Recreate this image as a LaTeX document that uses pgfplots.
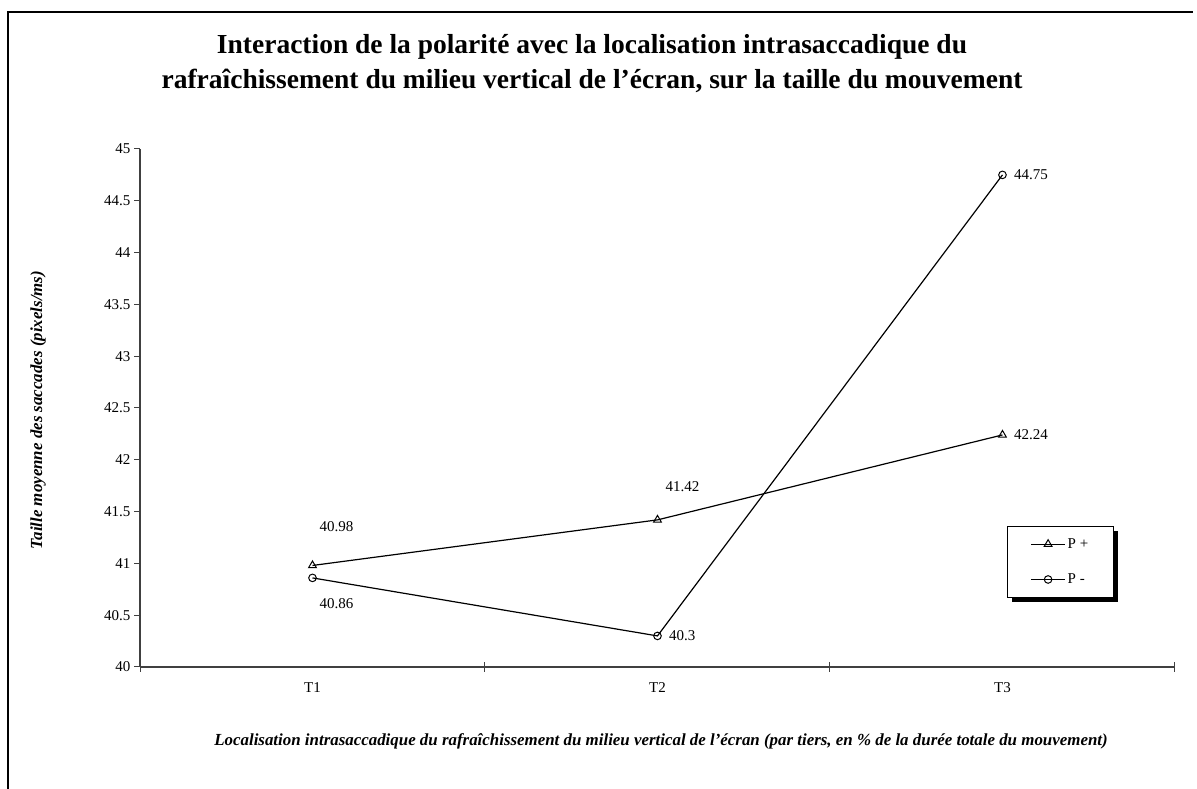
\documentclass[border=0pt]{standalone}
\usepackage{pgfplots}
\pgfplotsset{compat=1.18}
\usepackage{fontspec}
\setmainfont{Liberation Serif}
\begin{document}
\begin{tikzpicture}[x=1pt,y=1pt]
\useasboundingbox (0,0) rectangle (1197,789);
\draw[line width=1.6pt] (8,-2) -- (8,777) -- (1193,777);
\node[font=\fontsize{27.5}{35}\selectfont\bfseries, align=center] at (592,789-64) {Interaction de la polarité avec la localisation intrasaccadique du\\rafraîchissement du milieu vertical de l'écran, sur la taille du mouvement};
\node[font=\fontsize{16.9}{18}\selectfont\bfseries\itshape, rotate=90] at (38,789-410) {Taille moyenne des saccades (pixels/ms)};
\node[font=\fontsize{16.9}{18}\selectfont\bfseries\itshape] at (661,789-741) {Localisation intrasaccadique du rafraîchissement du milieu vertical de l'écran (par tiers, en \% de la durée totale du mouvement)};
\begin{axis}[
  at={(140pt,122pt)}, anchor=south west,
  width=1035pt, height=518pt, scale only axis,
  xmin=-0.5, xmax=2.5, ymin=40, ymax=45,
  axis lines=left, axis line style={-, line width=1.2pt, black!75},
  tick align=outside,
  xtick={0,1,2}, xticklabels={T1,T2,T3},
  major x tick style={draw=none},
  minor xtick={-0.5,0.5,1.5,2.5},
  minor tick length=10pt,
  minor x tick style={yshift=5pt, line width=1pt, black!75},
  ytick={40,40.5,...,45},
  major tick length=6pt,
  y tick style={line width=1pt, black!75},
  yticklabel style={/pgf/number format/fixed, /pgf/number format/precision=1},
  /pgf/number format/assume math mode=true,
  tick label style={font=\fontsize{15}{17}\selectfont},
  xticklabel style={yshift=-6pt},
  clip=false,
  legend style={at={(0.8377,0.2722)}, anchor=north west, draw=black, line width=1pt,
    fill=white,
    font=\fontsize{15}{17}\selectfont, inner xsep=23pt, inner ysep=10pt, row sep=20pt},
  legend cell align=left,
  legend image code/.code={\draw[mark repeat=2,mark phase=2,#1] plot coordinates {(0pt,0pt) (17pt,0pt) (34pt,0pt)};},
]
\fill[black] (rel axis cs:0.8425,0.2625) rectangle (rel axis cs:0.9449,0.1255);
\addplot[black, line width=1.2pt, mark=triangle, mark size=4.5pt, mark options={solid, line width=1pt, fill=white}] coordinates {(0,40.98) (1,41.42) (2,42.24)};
\addlegendentry{P +}
\addplot[black, line width=1.2pt, mark=o, mark size=3.8pt, mark options={solid, line width=1pt, fill=white}] coordinates {(0,40.86) (1,40.3) (2,44.75)};
\addlegendentry{P -}
\begin{scope}[font=\fontsize{15}{17}\selectfont]
\node at ([xshift=24pt, yshift=39pt]axis cs:0,40.98) {40.98};
\node at ([xshift=24pt, yshift=-26pt]axis cs:0,40.86) {40.86};
\node at ([xshift=25pt, yshift=33pt]axis cs:1,41.42) {41.42};
\node[anchor=west] at ([xshift=8pt]axis cs:1,40.3) {40.3};
\node[anchor=west] at ([xshift=8pt]axis cs:2,44.75) {44.75};
\node[anchor=west] at ([xshift=8pt]axis cs:2,42.24) {42.24};
\end{scope}
\end{axis}
\end{tikzpicture}
\end{document}
